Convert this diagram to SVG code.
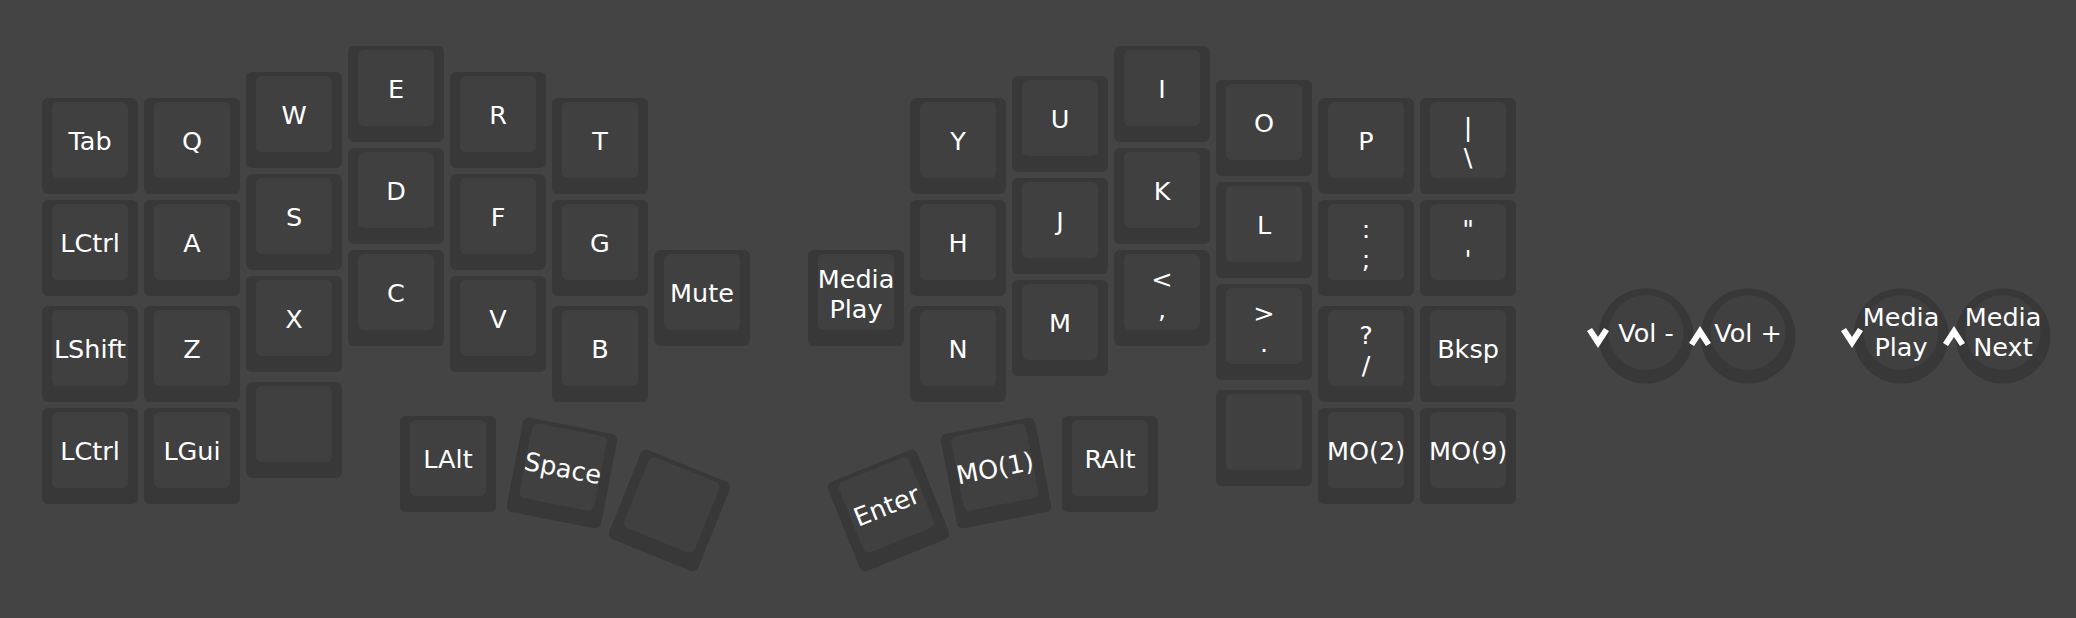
<svg xmlns="http://www.w3.org/2000/svg" xmlns:xlink="http://www.w3.org/1999/xlink" width="2076" height="618" viewBox="0 0 2076 618">
<style>
.bg{fill:#444444}
.ko{fill:#383838}
.ki{fill:#404040}
text{font-family:"DejaVu Sans","Liberation Sans",sans-serif;font-size:25.5px;fill:#ffffff;text-anchor:middle}
.chev{fill:#ffffff}
</style>
<defs>
<g id="keyshape"><rect class="ko" x="0" y="0" width="96" height="96" rx="6"/><rect class="ki" x="10" y="4" width="76" height="76" rx="6"/></g>
<g id="encshape"><circle class="ko" cx="0" cy="0" r="47.5"/><circle class="ki" cx="0" cy="-3.5" r="37.5"/></g>
<path id="down" class="chev" d="M-11,-6 L-6,-9 L0,0 L6,-9 L11,-6 L0,11 Z"/>
<path id="up" class="chev" d="M-11,6 L-6,9 L0,0 L6,9 L11,6 L0,-11 Z"/>
</defs>
<rect class="bg" x="0" y="0" width="2076" height="618"/>
<g id="left-half">
<g id="k-tab" transform="translate(42,98)"><use xlink:href="#keyshape"/><text x="48" y="52">Tab</text></g>
<g id="k-lctrl1" transform="translate(42,200)"><use xlink:href="#keyshape"/><text x="48" y="52">LCtrl</text></g>
<g id="k-lshift" transform="translate(42,306)"><use xlink:href="#keyshape"/><text x="48" y="52">LShift</text></g>
<g id="k-lctrl2" transform="translate(42,408)"><use xlink:href="#keyshape"/><text x="48" y="52">LCtrl</text></g>
<g id="k-q" transform="translate(144,98)"><use xlink:href="#keyshape"/><text x="48" y="52">Q</text></g>
<g id="k-a" transform="translate(144,200)"><use xlink:href="#keyshape"/><text x="48" y="52">A</text></g>
<g id="k-z" transform="translate(144,306)"><use xlink:href="#keyshape"/><text x="48" y="52">Z</text></g>
<g id="k-lgui" transform="translate(144,408)"><use xlink:href="#keyshape"/><text x="48" y="52">LGui</text></g>
<g id="k-w" transform="translate(246,72)"><use xlink:href="#keyshape"/><text x="48" y="52">W</text></g>
<g id="k-s" transform="translate(246,174)"><use xlink:href="#keyshape"/><text x="48" y="52">S</text></g>
<g id="k-x" transform="translate(246,276)"><use xlink:href="#keyshape"/><text x="48" y="52">X</text></g>
<g id="k-lblank" transform="translate(246,382)"><use xlink:href="#keyshape"/></g>
<g id="k-e" transform="translate(348,46)"><use xlink:href="#keyshape"/><text x="48" y="52">E</text></g>
<g id="k-d" transform="translate(348,148)"><use xlink:href="#keyshape"/><text x="48" y="52">D</text></g>
<g id="k-c" transform="translate(348,250)"><use xlink:href="#keyshape"/><text x="48" y="52">C</text></g>
<g id="k-r" transform="translate(450,72)"><use xlink:href="#keyshape"/><text x="48" y="52">R</text></g>
<g id="k-f" transform="translate(450,174)"><use xlink:href="#keyshape"/><text x="48" y="52">F</text></g>
<g id="k-v" transform="translate(450,276)"><use xlink:href="#keyshape"/><text x="48" y="52">V</text></g>
<g id="k-t" transform="translate(552,98)"><use xlink:href="#keyshape"/><text x="48" y="52">T</text></g>
<g id="k-g" transform="translate(552,200)"><use xlink:href="#keyshape"/><text x="48" y="52">G</text></g>
<g id="k-b" transform="translate(552,306)"><use xlink:href="#keyshape"/><text x="48" y="52">B</text></g>
<g id="k-mute" transform="translate(654,250)"><use xlink:href="#keyshape"/><text x="48" y="52">Mute</text></g>
<g id="k-lalt" transform="translate(400,416)"><use xlink:href="#keyshape"/><text x="48" y="52">LAlt</text></g>
<g id="k-space" transform="translate(562,473) rotate(11) translate(-48,-48)"><use xlink:href="#keyshape"/><text x="48" y="52">Space</text></g>
<g id="k-lthumb" transform="translate(669.5,510.5) rotate(22) translate(-48,-48)"><use xlink:href="#keyshape"/></g>
</g>
<g id="right-half">
<g id="k-mplay" transform="translate(808,250)"><use xlink:href="#keyshape"/><text x="48" y="37.5">Media</text><text x="48" y="67.5">Play</text></g>
<g id="k-y" transform="translate(910,98)"><use xlink:href="#keyshape"/><text x="48" y="52">Y</text></g>
<g id="k-h" transform="translate(910,200)"><use xlink:href="#keyshape"/><text x="48" y="52">H</text></g>
<g id="k-n" transform="translate(910,306)"><use xlink:href="#keyshape"/><text x="48" y="52">N</text></g>
<g id="k-u" transform="translate(1012,76)"><use xlink:href="#keyshape"/><text x="48" y="52">U</text></g>
<g id="k-j" transform="translate(1012,178)"><use xlink:href="#keyshape"/><text x="48" y="52">J</text></g>
<g id="k-m" transform="translate(1012,280)"><use xlink:href="#keyshape"/><text x="48" y="52">M</text></g>
<g id="k-i" transform="translate(1114,46)"><use xlink:href="#keyshape"/><text x="48" y="52">I</text></g>
<g id="k-k" transform="translate(1114,148)"><use xlink:href="#keyshape"/><text x="48" y="52">K</text></g>
<g id="k-comma" transform="translate(1114,250)"><use xlink:href="#keyshape"/><text x="48" y="37.5">&lt;</text><text x="48" y="67.5">,</text></g>
<g id="k-o" transform="translate(1216,80)"><use xlink:href="#keyshape"/><text x="48" y="52">O</text></g>
<g id="k-l" transform="translate(1216,182)"><use xlink:href="#keyshape"/><text x="48" y="52">L</text></g>
<g id="k-dot" transform="translate(1216,284)"><use xlink:href="#keyshape"/><text x="48" y="37.5">&gt;</text><text x="48" y="67.5">.</text></g>
<g id="k-rblank" transform="translate(1216,390)"><use xlink:href="#keyshape"/></g>
<g id="k-p" transform="translate(1318,98)"><use xlink:href="#keyshape"/><text x="48" y="52">P</text></g>
<g id="k-semi" transform="translate(1318,200)"><use xlink:href="#keyshape"/><text x="48" y="37.5">:</text><text x="48" y="67.5">;</text></g>
<g id="k-slash" transform="translate(1318,306)"><use xlink:href="#keyshape"/><text x="48" y="37.5">?</text><text x="48" y="67.5">/</text></g>
<g id="k-mo2" transform="translate(1318,408)"><use xlink:href="#keyshape"/><text x="48" y="52">MO(2)</text></g>
<g id="k-bslash" transform="translate(1420,98)"><use xlink:href="#keyshape"/><text x="48" y="37.5">|</text><text x="48" y="67.5">\</text></g>
<g id="k-quote" transform="translate(1420,200)"><use xlink:href="#keyshape"/><text x="48" y="37.5">"</text><text x="48" y="67.5">'</text></g>
<g id="k-bksp" transform="translate(1420,306)"><use xlink:href="#keyshape"/><text x="48" y="52">Bksp</text></g>
<g id="k-mo9" transform="translate(1420,408)"><use xlink:href="#keyshape"/><text x="48" y="52">MO(9)</text></g>
<g id="k-ralt" transform="translate(1062,416)"><use xlink:href="#keyshape"/><text x="48" y="52">RAlt</text></g>
<g id="k-mo1" transform="translate(996,473) rotate(-11) translate(-48,-48)"><use xlink:href="#keyshape"/><text x="48" y="52">MO(1)</text></g>
<g id="k-enter" transform="translate(888.5,510.5) rotate(-22) translate(-48,-48)"><use xlink:href="#keyshape"/><text x="48" y="52">Enter</text></g>
</g>
<g id="encoders">
<g id="enc-voldn" transform="translate(1646,336)"><use xlink:href="#encshape"/><text x="0" y="5.5">Vol -</text></g>
<g id="enc-volup" transform="translate(1748,336)"><use xlink:href="#encshape"/><text x="0" y="5.5">Vol +</text></g>
<g id="enc-mplay" transform="translate(1901,336)"><use xlink:href="#encshape"/><text x="0" y="-10.5">Media</text><text x="0" y="19.5">Play</text></g>
<g id="enc-mnext" transform="translate(2003,336)"><use xlink:href="#encshape"/><text x="0" y="-10.5">Media</text><text x="0" y="19.5">Next</text></g>
<use xlink:href="#down" x="1598" y="337"/>
<use xlink:href="#up" x="1700" y="337"/>
<use xlink:href="#down" x="1852" y="337"/>
<use xlink:href="#up" x="1954" y="337"/>
</g>
</svg>
